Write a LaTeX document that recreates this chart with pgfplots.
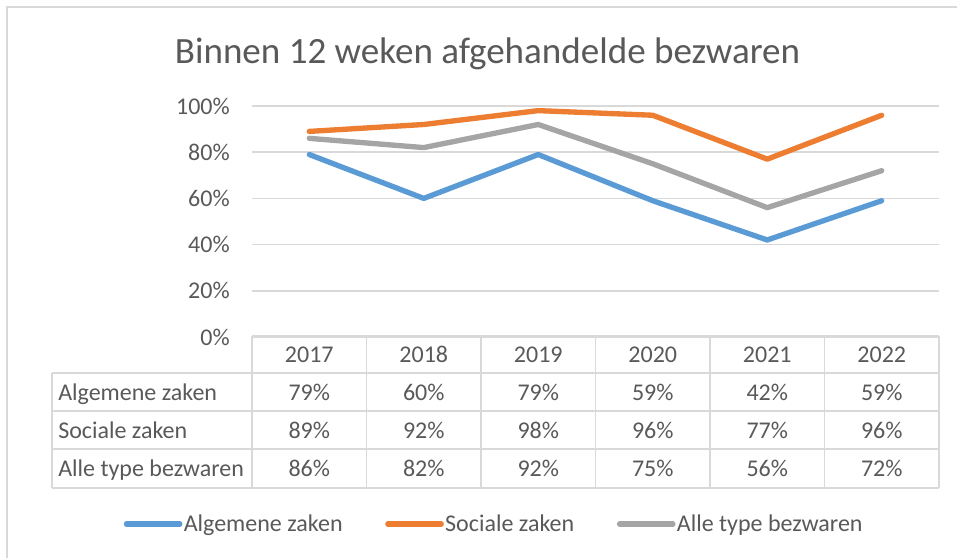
\documentclass[border=0pt]{standalone}
\usepackage{fontspec}
\setmainfont{Carlito}
\usepackage{pgfplots}
\usepackage{pgfplotstable}
\pgfplotsset{compat=1.18}
\definecolor{txtgray}{HTML}{595959}
\definecolor{linegray}{HTML}{D9D9D9}
\definecolor{algblue}{HTML}{5B9BD5}
\definecolor{socorange}{HTML}{ED7D31}
\definecolor{allgray}{HTML}{A5A5A5}

% percentages per year
\pgfplotstableread{
x year alg soc alle
0 2017 79 89 86
1 2018 60 92 82
2 2019 79 98 92
3 2020 59 96 75
4 2021 42 77 56
5 2022 59 96 72
}\bezwaren

\newcommand{\lbl}{\fontsize{18}{21.6}\selectfont}

\begin{document}
\begin{tikzpicture}
\begin{scope}[x=0.75pt,y=-0.75pt]
\useasboundingbox (0,0) rectangle (957,558);
\draw[linegray, line width=1.5pt] (7,558) -- (7,7) -- (957,7);
\node[txtgray, font=\fontsize{27.8}{33}\selectfont, anchor=base] at (487.5,63) {Binnen 12 weken afgehandelde bezwaren};
\end{scope}

\begin{axis}[
  at={(189pt,-252.75pt)}, anchor=south west,
  scale only axis, width=515.25pt, height=173.25pt,
  xmin=-0.5, xmax=5.5, ymin=0, ymax=100,
  xtick=\empty, ytick={0,20,...,100},
  yticklabel={\pgfmathprintnumber{\tick}\%},
  /pgf/number format/assume math mode=true,
  yticklabel style={font=\lbl, text=txtgray, inner sep=0pt, xshift=-16.5pt},
  axis line style={draw=none}, major tick length=0pt,
  ymajorgrids, grid style={linegray, line width=1.2pt},
  clip=false,
  legend columns=3,
  legend cell align=left,
  legend style={draw=none, fill=none, font=\lbl, text=txtgray,
    at={(rel axis cs:0.352,-0.8095)}, anchor=center,
    nodes={inner sep=1pt},
    /tikz/every even column/.append style={column sep=31pt}},
  legend image code/.code={\draw[#1, line width=4pt, line cap=round] (0pt,0pt) -- (40pt,0pt);},
  every axis plot/.append style={line width=4pt, line cap=round, line join=round},
]
\addplot[algblue] table[x=x,y=alg]{\bezwaren};
\addlegendentry{Algemene zaken}
\addplot[socorange] table[x=x,y=soc]{\bezwaren};
\addlegendentry{Sociale zaken}
\addplot[allgray] table[x=x,y=alle]{\bezwaren};
\addlegendentry{Alle type bezwaren}
\end{axis}

% data table under the plot
\begin{scope}[x=0.75pt,y=-0.75pt]
\begin{scope}[linegray, line width=1.2pt]
\draw (252,336) -- (939,336);
\foreach \yy in {373,411,449,488} \draw (52,\yy) -- (939,\yy);
\draw (52,373) -- (52,488);
\foreach \xx in {252,366.5,481,595.5,710,824.5,939} \draw (\xx,336) -- (\xx,488);
\end{scope}
\begin{scope}[every node/.style={font=\lbl, text=txtgray, inner sep=0pt}]
\node[anchor=base west] at (58,400) {Algemene zaken};
\node[anchor=base west] at (58,438) {Sociale zaken};
\node[anchor=base west] at (58,476.5) {Alle type bezwaren};
\foreach \i in {0,...,5}{
  \pgfmathsetmacro\cx{309.25+114.5*\i}
  \pgfplotstablegetelem{\i}{year}\of\bezwaren
  \node[anchor=base] at (\cx,362) {\pgfplotsretval};
  \pgfplotstablegetelem{\i}{alg}\of\bezwaren
  \node[anchor=base] at (\cx,400) {\pgfplotsretval\%};
  \pgfplotstablegetelem{\i}{soc}\of\bezwaren
  \node[anchor=base] at (\cx,438) {\pgfplotsretval\%};
  \pgfplotstablegetelem{\i}{alle}\of\bezwaren
  \node[anchor=base] at (\cx,476.5) {\pgfplotsretval\%};
}
\end{scope}
\end{scope}
\end{tikzpicture}
\end{document}
